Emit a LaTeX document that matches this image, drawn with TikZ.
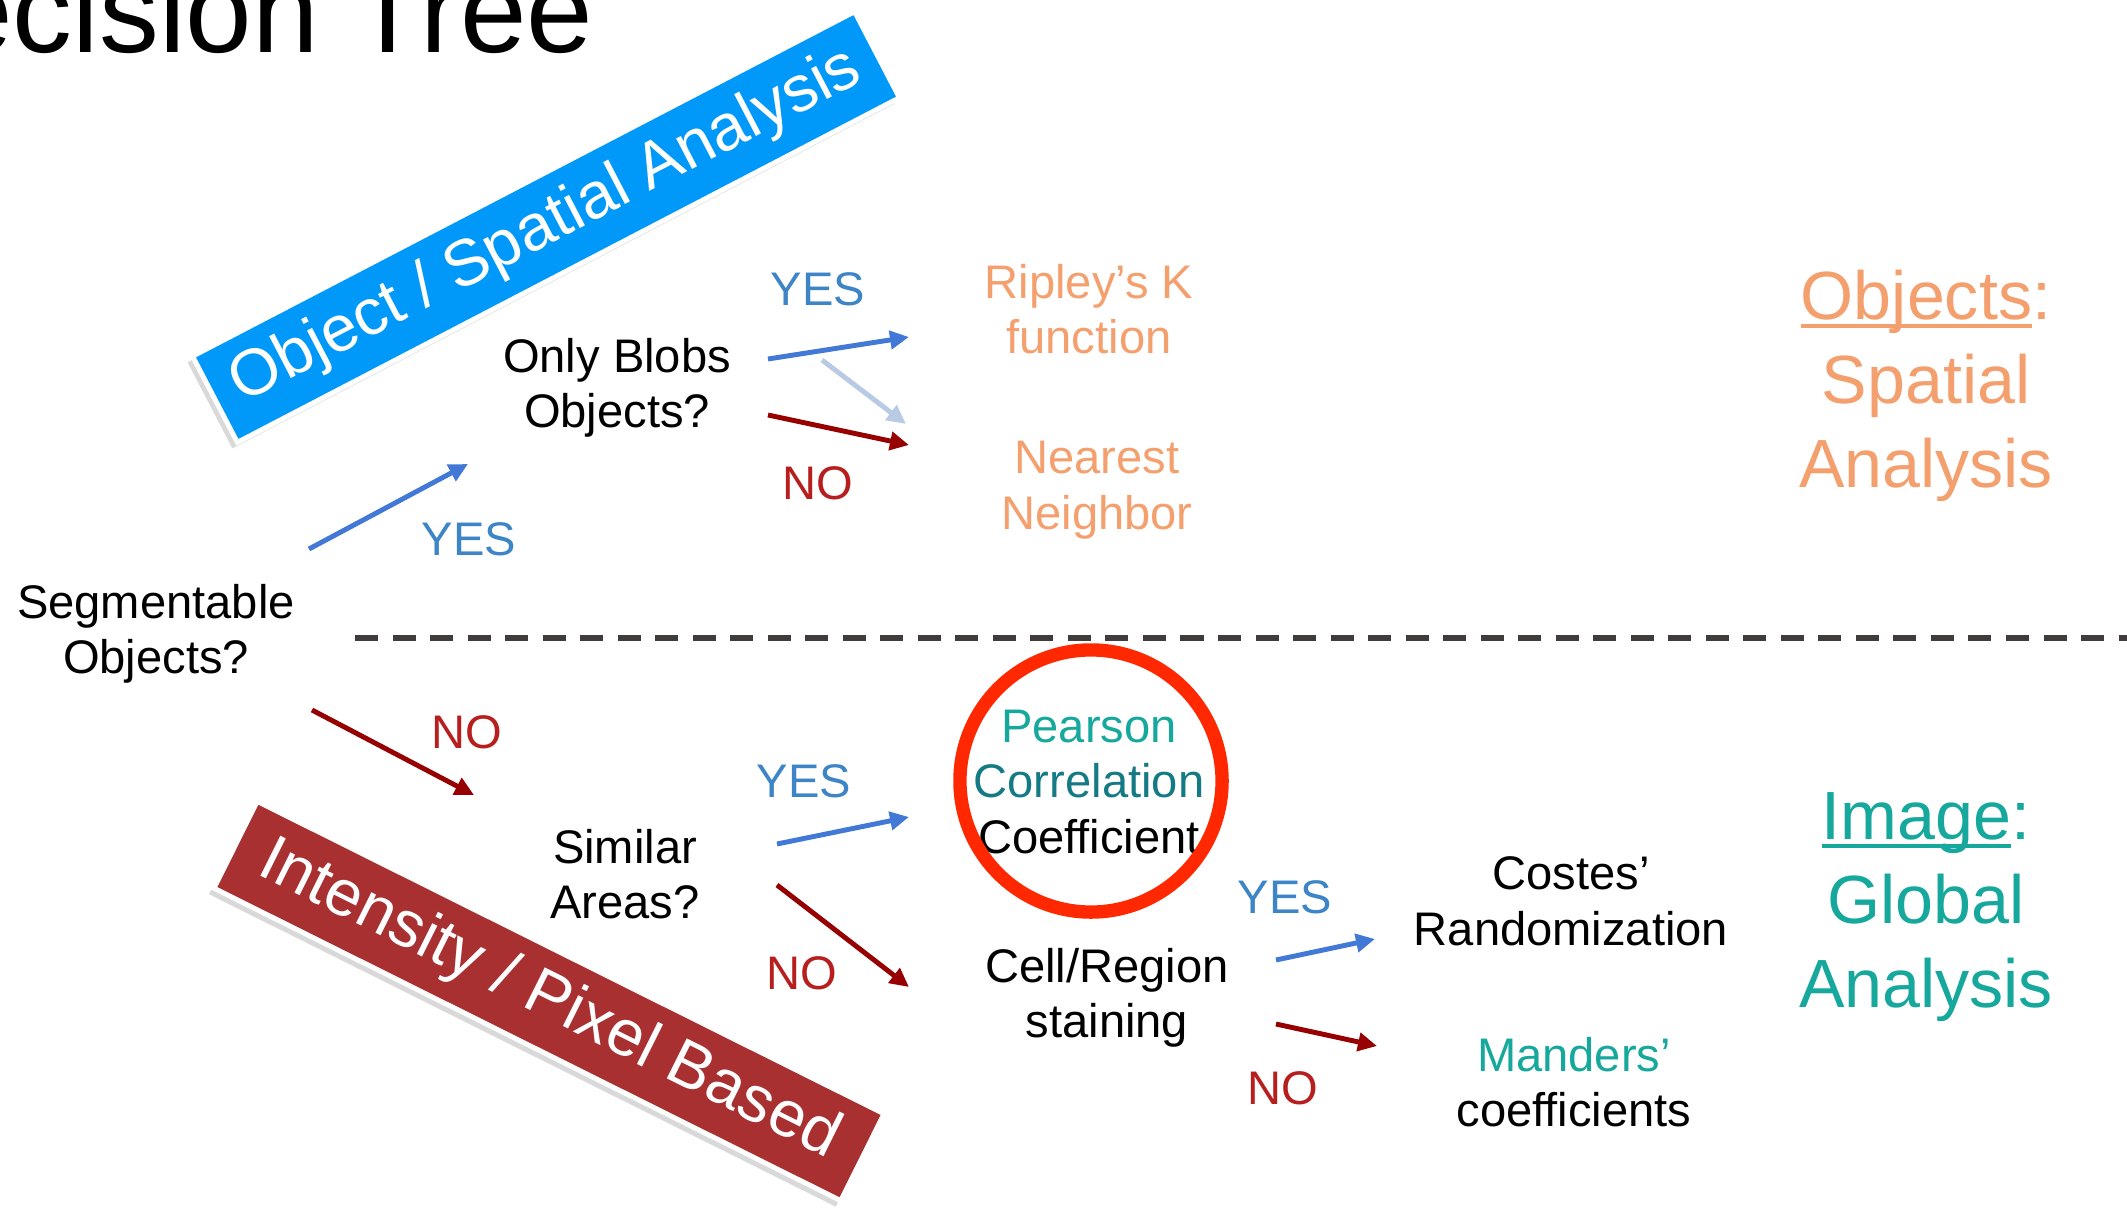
\documentclass[tikz,border=0pt]{standalone}
\usepackage{fontspec}
\setmainfont{Liberation Sans}
\usepackage{tikz}
\usepackage{xcolor}
\usetikzlibrary{arrows.meta,positioning,shadows}
\definecolor{bannerblue}{RGB}{0,153,250}
\definecolor{bannerred}{RGB}{168,48,48}
\definecolor{arrowblue}{RGB}{66,120,214}
\definecolor{arrowred}{RGB}{150,0,0}
\definecolor{arrowpale}{RGB}{185,202,228}
\definecolor{yesblue}{RGB}{61,133,198}
\definecolor{nored}{RGB}{183,30,30}
\definecolor{objorange}{RGB}{244,160,110}
\definecolor{tealA}{RGB}{22,168,156}
\definecolor{tealB}{RGB}{20,122,132}
\definecolor{ringred}{RGB}{255,40,0}
\definecolor{dashgray}{RGB}{64,60,60}
\newcommand\ulword[1]{\setbox0\hbox{#1}\rlap{\rule[-2.4pt]{\wd0}{1.3pt}}\box0}

\begin{document}
\begin{tikzpicture}[x=0.01cm,y=-0.01cm,>={Triangle[length=1.9mm,width=1.8mm]},
 txt/.style={align=center,inner sep=0pt,font=\fontsize{13.4}{15.8}\selectfont},
 big/.style={align=center,inner sep=0pt,font=\fontsize{19.4}{23.8}\selectfont},
 banner/.style={draw=white,line width=1.4pt,text=white,minimum height=0.97cm,inner sep=0pt,
  font=\fontsize{18.5}{20}\selectfont,drop shadow={shadow xshift=-0.5mm,shadow yshift=-0.6mm,opacity=0.3}},
 yesline/.style={->,line width=1.4pt,draw=arrowblue},
 noline/.style={->,line width=1.4pt,draw=arrowred},
 yeslab/.style={txt,text=yesblue},nolab/.style={txt,text=nored}]
 \useasboundingbox (0,0) rectangle (2127,1209);
 \node[anchor=base east,inner sep=0pt,font=\fontsize{34}{36}\selectfont] (title) at (594,52) {Decision Tree};
 \node[banner,fill=bannerblue,rotate=27.5,minimum width=7.46cm] (objbanner) at (546,227) {Object / Spatial Analysis};
 \node[banner,fill=bannerred,rotate=-26.5,minimum width=7.0cm] (pixbanner) at (549,1001) {Intensity / Pixel Based};
 \node[txt] (seg) at (156,634) {Segmentable\\Objects?};
 \node[txt] (blobs) at (617,388) {Only Blobs\\Objects?};
 \node[txt] (similar) at (625,874) {Similar\\Areas?};
 \node[txt] (cell) at (1107,998) {Cell/Region\\staining};
 \node[txt] (costes) at (1571,901) {Costes’\\Randomization};
 \node[txt] (manders) at (1574,1082) {\textcolor{tealA}{Manders’}\\coefficients};
 \node[txt] (pearson) at (1089,782) {\textcolor{tealA}{Pearson}\\\textcolor{tealB}{Correlation}\\Coefficient};
 \node[draw=ringred,line width=3.8pt,circle,minimum size=2.62cm] (ring) at (1091,781) {};
 \node[txt,text=objorange] (ripley) at (1089,309) {Ripley’s K\\function};
 \node[txt,text=objorange] (nearest) at (1097,490) {Nearest\\Neighbor};
 \node[big,text=objorange] (objects) at (1926,386) {\ulword{Objects}:\\Spatial\\Analysis};
 \node[big,text=tealA] (image) at (1926,907) {\ulword{Image}:\\Global\\Analysis};
 \node[yeslab] (segyes) at (469,539) {YES};
 \node[nolab] (segno) at (467,732) {NO};
 \node[yeslab] (blobyes) at (818,289) {YES};
 \node[nolab] (blobno) at (818,483) {NO};
 \node[yeslab] (simyes) at (804,781) {YES};
 \node[nolab] (simno) at (802,973) {NO};
 \node[yeslab] (cellyes) at (1285,897) {YES};
 \node[nolab] (cellno) at (1283,1088) {NO};
 \coordinate (dashL) at (355,638);
 \coordinate (dashR) at (2127,638);
 \draw[dashgray,line width=1.6pt,dash pattern=on 0.23cm off 0.145cm] (dashL) -- (dashR);
 \coordinate (sy1) at (309,549); \coordinate (sy2) at (468,464);
 \coordinate (sn1) at (312,710); \coordinate (sn2) at (474,795);
 \coordinate (by1) at (768,359); \coordinate (by2) at (909,337);
 \coordinate (bn1) at (768,415); \coordinate (bn2) at (909,445);
 \coordinate (bp1) at (822,360); \coordinate (bp2) at (906,424);
 \coordinate (ay1) at (777,844); \coordinate (ay2) at (909,817);
 \coordinate (an1) at (777,885); \coordinate (an2) at (909,987);
 \coordinate (cy1) at (1276,960); \coordinate (cy2) at (1375,939);
 \coordinate (cn1) at (1276,1024); \coordinate (cn2) at (1377,1046);
 \draw[yesline] (sy1) -- (sy2);
 \draw[noline] (sn1) -- (sn2);
 \draw[yesline] (by1) -- (by2);
 \draw[noline] (bn1) -- (bn2);
 \draw[->,line width=1.4pt,draw=arrowpale] (bp1) -- (bp2);
 \draw[yesline] (ay1) -- (ay2);
 \draw[noline] (an1) -- (an2);
 \draw[yesline] (cy1) -- (cy2);
 \draw[noline] (cn1) -- (cn2);
\end{tikzpicture}
\end{document}
